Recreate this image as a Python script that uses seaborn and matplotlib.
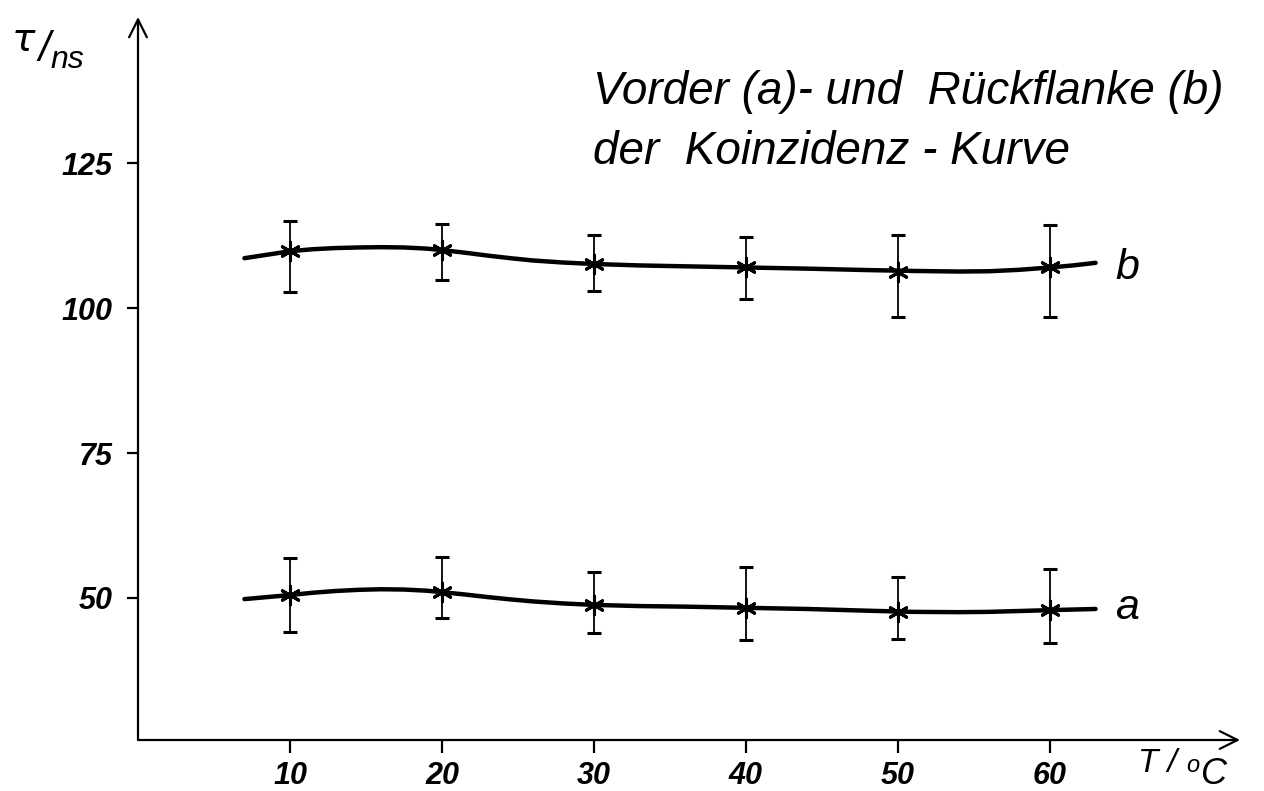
import matplotlib
matplotlib.use("Agg")
import matplotlib.pyplot as plt
import seaborn as sns
import pandas as pd

# ---- data ----
T = [10, 20, 30, 40, 50, 60]
b_val = [109.8, 110.0, 107.6, 107.1, 106.3, 107.0]
b_lo = [102.8, 104.8, 102.9, 101.6, 98.4, 98.4]
b_hi = [115.0, 114.5, 112.6, 112.2, 112.6, 114.3]
a_val = [50.5, 51.0, 48.8, 48.3, 47.5, 47.9]
a_lo = [44.1, 46.6, 44.0, 42.8, 42.9, 42.2]
a_hi = [56.9, 57.1, 54.5, 55.3, 53.6, 55.0]

curve_T = [7, 8.5, 10, 11.5, 13, 14.5, 16, 17.5, 19, 20, 21.5, 23, 24.5, 26, 28, 30,
           33, 36, 40, 44, 48, 51, 54, 56, 58, 60, 61.5, 63]
b_curve = [108.6, 109.2, 109.8, 110.15, 110.35, 110.45, 110.5, 110.45, 110.25, 110.0,
           109.55, 109.05, 108.6, 108.2, 107.85, 107.6, 107.35, 107.2, 107.0, 106.8,
           106.55, 106.4, 106.3, 106.35, 106.6, 107.0, 107.35, 107.8]
a_curve = [49.8, 50.15, 50.5, 50.9, 51.2, 51.4, 51.5, 51.45, 51.25, 51.0,
           50.6, 50.15, 49.75, 49.4, 49.05, 48.8, 48.6, 48.5, 48.3, 48.1,
           47.8, 47.6, 47.55, 47.6, 47.75, 47.9, 48.0, 48.1]

y_ticks = [50, 75, 100, 125]
x_ticks = [10, 20, 30, 40, 50, 60]

title_1 = "Vorder (a)- und  Rückflanke (b)"
title_2 = "der  Koinzidenz - Kurve"

sns.set_theme(style="white")
plt.rcParams["font.family"] = ["Liberation Sans", "DejaVu Sans"]
fam = ["Liberation Sans", "DejaVu Sans"]

fig = plt.figure(figsize=(12.64, 7.91), dpi=100)
ax = fig.add_axes([138 / 1264, 51 / 791, (1240 - 138) / 1264, (740 - 17) / 791])
ax.set_xlim(0, 72.5)
ax.set_ylim(25.5, 150.2)

curves = pd.DataFrame({"T": curve_T * 2, "tau": b_curve + a_curve,
                       "s": ["b"] * len(curve_T) + ["a"] * len(curve_T)})
sns.lineplot(data=curves, x="T", y="tau", units="s", estimator=None, sort=False,
             color="black", lw=3.2, ax=ax, legend=False, solid_joinstyle="round",
             solid_capstyle="round")

pts = pd.DataFrame({"T": T * 2, "tau": b_val + a_val})
sns.scatterplot(data=pts, x="T", y="tau", marker=(6, 2, 0), s=180, color="black",
                linewidth=2.2, ax=ax, legend=False, zorder=5)

for vals, lo, hi in [(b_val, b_lo, b_hi), (a_val, a_lo, a_hi)]:
    err = [[v - l for v, l in zip(vals, lo)], [h - v for v, h in zip(vals, hi)]]
    ax.errorbar(T, vals, yerr=err, fmt="none", ecolor="black", elinewidth=1.3,
                capsize=5, capthick=2.2, zorder=4)

# axes with arrows
for s in ax.spines.values():
    s.set_visible(False)
ax.annotate("", xy=(1, 0), xytext=(0, 0), xycoords="axes fraction",
            arrowprops=dict(arrowstyle="->", lw=1.6, color="black", mutation_scale=32,
                            shrinkA=0, shrinkB=0))
ax.annotate("", xy=(0, 1), xytext=(0, 0), xycoords="axes fraction",
            arrowprops=dict(arrowstyle="->", lw=1.6, color="black", mutation_scale=32,
                            shrinkA=0, shrinkB=0))

ax.set_xticks(x_ticks)
ax.set_xticklabels([str(v) for v in x_ticks])
ax.set_yticks(y_ticks)
ax.set_yticklabels([str(v) for v in y_ticks])
ax.tick_params(axis="both", direction="out", color="black", width=1.6)
ax.tick_params(axis="y", left=True, length=8, pad=10)
ax.tick_params(axis="x", bottom=True, length=9, pad=6)
for lab in ax.get_xticklabels() + ax.get_yticklabels():
    lab.set_fontsize(22)
    lab.set_fontweight("bold")
    lab.set_fontstyle("italic")
    lab.set_color("black")
ax.set_xlabel("")
ax.set_ylabel("")
ax.grid(False)

# texts (figure pixel placement)
def ftext(x, y, s, size, **kw):
    fig.text(x / 1264, 1 - y / 791, s, fontsize=size, color="black", **kw)

ftext(593, 92, title_1, 33, family=fam, style="italic", va="center")
ftext(593, 152, title_2, 33, family=fam, style="italic", va="center")
ftext(1115, 268, "b", 31, family=fam, style="italic", va="center")
ftext(1115, 608, "a", 31, family=fam, style="italic", va="center")
ftext(12, 40, "τ", 28, family=["DejaVu Sans"], style="italic", va="center")
ftext(38, 50, "/", 30, family=fam, style="italic", va="center")
ftext(50, 60, "ns", 23, family=fam, style="italic", va="center")
ftext(1138, 764, "T /", 24, family=fam, style="italic", va="center")
ftext(1186, 766, "o", 17, family=fam, style="italic", va="center")
ftext(1201, 774, "C", 26, family=fam, style="italic", va="center")

fig.savefig("out.png", dpi=100, facecolor="white")
